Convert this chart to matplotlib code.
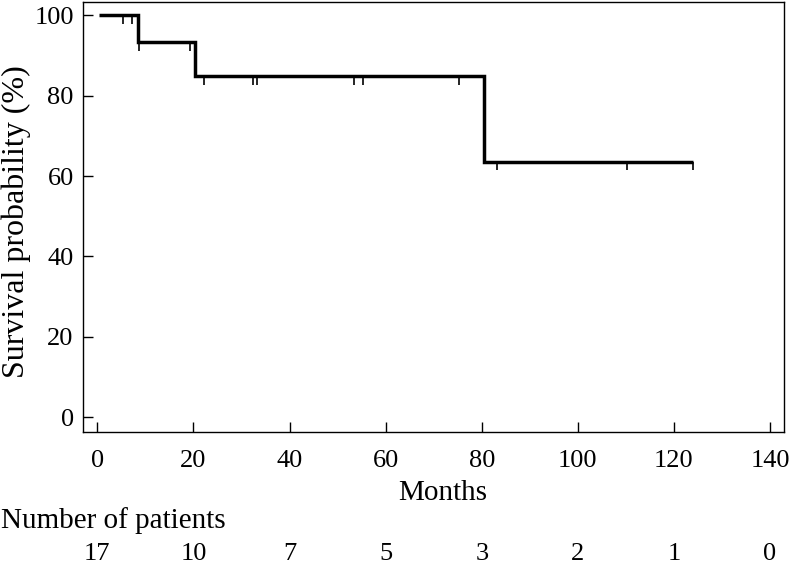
"""
Kaplan-Meier style survival curve with censor ticks and a numbers-at-risk row.
Saves out.png.
"""
import matplotlib.pyplot as plt
import numpy as np

plt.rcParams.update({"font.family": ["Liberation Serif", "DejaVu Serif"],
                     "font.size": 19})

# step curve: time of each level change (months) and survival (%) after it
step_times = [0.4, 8.5, 20.3, 80.5]
step_surv = [100.0, 93.3, 84.8, 63.6]
end_time = 124.0

# censored observations (months)
censor_times = [5.4, 7.3, 8.6, 19.3, 22.3, 32.3, 33.3, 53.4, 55.2,
                75.3, 83.2, 110.2, 124.0]

# numbers at risk row
risk_months = [0, 20, 40, 60, 80, 100, 120, 140]
risk_counts = [17, 10, 7, 5, 3, 2, 1, 0]


def surv_at(t):
    idx = np.searchsorted(step_times, t, side="right") - 1
    return step_surv[max(idx, 0)]


fig = plt.figure(figsize=(7.94, 5.68), dpi=100)
ax = fig.add_axes([0.1042, 0.2389, 0.8832, 0.7581])

xs = step_times + [end_time]
ys = step_surv + [step_surv[-1]]
ax.step(xs, ys, where="post", color="black", linewidth=2.5,
        solid_capstyle="butt", solid_joinstyle="miter")

# censor marks hang below the curve
tick_len = 2.2
for t in censor_times:
    s = surv_at(t)
    ax.vlines(t, s - tick_len, s, color="black", linewidth=1.2)

ax.set_xlim(-3.04, 142.9)
ax.set_ylim(-3.8, 103.4)
ax.set_xticks(risk_months)
ax.set_yticks([0, 20, 40, 60, 80, 100])
ax.tick_params(direction="in", length=7.5, width=1.0)
ax.tick_params(axis="x", pad=13)
ax.tick_params(axis="y", pad=6.5)
for sp in ax.spines.values():
    sp.set_linewidth(1.0)

fig.text(16 / 794, 1 - 222 / 568, "Survival probability (%)", rotation=90,
         ha="center", va="center", fontsize=23)
fig.text(443 / 794, 1 - 493 / 568, "Months", ha="center", va="center",
         fontsize=21)
fig.text(1 / 794, 1 - 521 / 568, "Number of patients", ha="left",
         va="center", fontsize=21)

for m, n in zip(risk_months, risk_counts):
    x_fig = fig.transFigure.inverted().transform(
        ax.transData.transform((m, 0)))[0]
    fig.text(x_fig, 1 - 554 / 568, str(n), ha="center", va="center",
             fontsize=19)

fig.savefig("out.png", dpi=100)
